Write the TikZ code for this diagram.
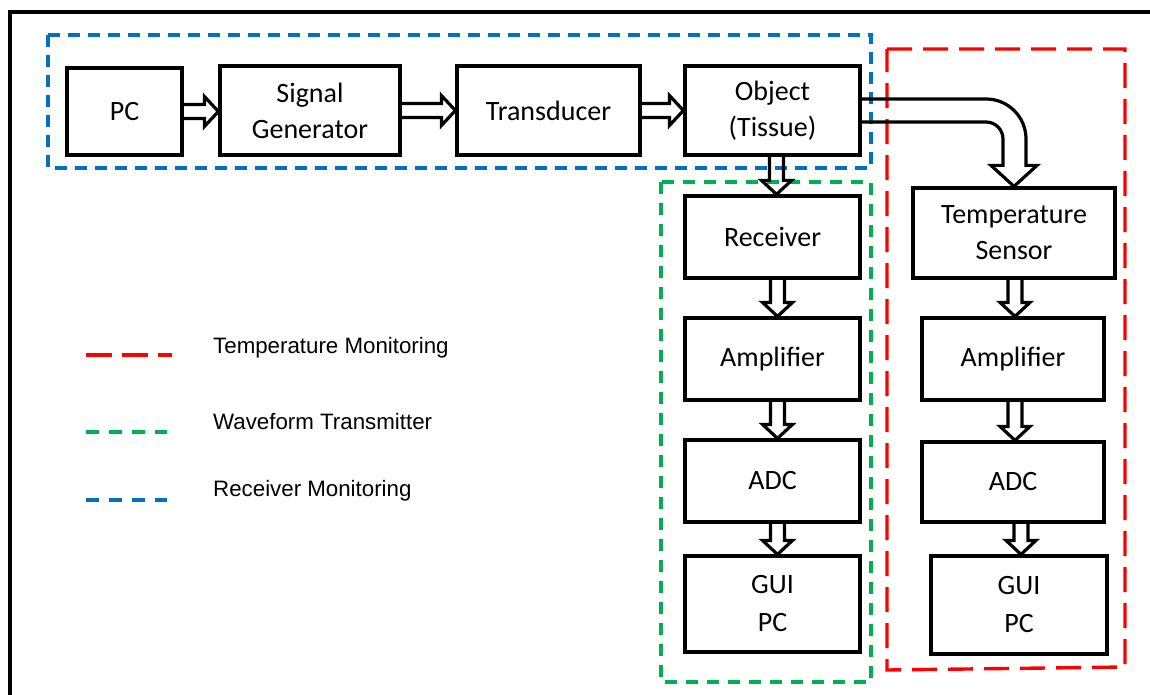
\documentclass[tikz,border=0pt]{standalone}
\usepackage{fontspec}
\setmainfont{Carlito}
\newfontfamily\legendfont{Liberation Sans}
\usetikzlibrary{calc}
\definecolor{rmblue}{RGB}{0,112,192}
\definecolor{wtgreen}{RGB}{0,176,80}
\definecolor{tmred}{RGB}{255,0,0}
\newcommand\hbarrow[2]{%
  \path let \p1=(#1.east), \p2=(#2.west) in
    [barrowline] (\x1,\y1+7pt) -- (\x2-14pt,\y1+7pt) -- (\x2-14pt,\y1+15pt) -- (\x2,\y1)
    -- (\x2-14pt,\y1-15pt) -- (\x2-14pt,\y1-7pt) -- (\x1,\y1-7pt);}
\newcommand\vbarrow[3]{%
  \path let \p1=(#1.south), \p2=(#2.north) in
    [barrowline] (\x1+#3-7pt,\y1) -- (\x1+#3-7pt,\y2+14pt) -- (\x1+#3-15pt,\y2+14pt) -- (\x1+#3,\y2)
    -- (\x1+#3+15pt,\y2+14pt) -- (\x1+#3+7pt,\y2+14pt) -- (\x1+#3+7pt,\y1);}
\begin{document}
\begin{tikzpicture}[x=1pt,y=-1pt,
  box/.style={draw, line width=3.2pt, align=center, inner sep=0pt,
    font=\fontsize{28}{36}\selectfont},
  barrowline/.style={draw, line width=3.2pt, line join=miter},
  bluegroup/.style={draw=rmblue, line width=3.4pt, dash pattern=on 12pt off 8pt},
  greengroup/.style={draw=wtgreen, line width=3.4pt, dash pattern=on 12pt off 9pt},
  redgroup/.style={draw=tmred, line width=3.4pt, dash pattern=on 25pt off 11pt},
  legendtext/.style={anchor=base west, inner sep=0pt, font=\legendfont\fontsize{22.3}{26}\selectfont},
  frame/.style={draw=black, line width=3.5pt}]
\path[use as bounding box, clip] (0,0) rectangle (1150,695);
\fill[white] (0,0) rectangle (1150,695);
\draw[frame] (10,12) rectangle (1180,720);

% group outlines
\draw[bluegroup] (48,35) rectangle (871,168);
\draw[greengroup] (661,182) rectangle (871,682);
\draw[redgroup] (887,49) -- (1125,49) -- (1125,667) -- (887,670) -- cycle;

% boxes
\node[box, minimum width=115, minimum height=87] (pc) at (124.5,111.5) {PC};
\node[box, minimum width=180, minimum height=89] (sg) at (310,110.5) {Signal\\Generator};
\node[box, minimum width=183, minimum height=89] (td) at (548.5,110.5) {Transducer};
\node[box, minimum width=175, minimum height=89] (obj) at (772.5,110.5) {Object\\(Tissue)};
\node[box, minimum width=175, minimum height=82] (rcv) at (772.5,237) {Receiver};
\node[box, minimum width=175, minimum height=82] (ampL) at (772.5,359) {Amplifier};
\node[box, minimum width=175, minimum height=82] (adcL) at (772.5,481) {ADC};
\node[box, minimum width=175, minimum height=96, font=\fontsize{28}{38}\selectfont] (guiL) at (772.5,604) {GUI\\PC};
\node[box, minimum width=202, minimum height=90] (ts) at (1014,233) {Temperature\\Sensor};
\node[box, minimum width=182, minimum height=82] (ampR) at (1013,359) {Amplifier};
\node[box, minimum width=182, minimum height=80] (adcR) at (1013,482) {ADC};
\node[box, minimum width=176, minimum height=98, font=\fontsize{28}{38}\selectfont] (guiR) at (1019,605) {GUI\\PC};

% block arrows
\hbarrow{pc}{sg}
\hbarrow{sg}{td}
\hbarrow{td}{obj}
\vbarrow{obj}{rcv}{4pt}
\vbarrow{rcv}{ampL}{5pt}
\vbarrow{ampL}{adcL}{5pt}
\vbarrow{adcL}{guiL}{5pt}
\vbarrow{ts}{ampR}{1pt}
\vbarrow{ampR}{adcR}{2pt}
\vbarrow{adcR}{guiR}{8pt}
\path let \p1=(obj.east), \p2=(ts.north) in
  [barrowline] (\x1,\y1+11.5pt) -- (\x2-28pt,\y1+11.5pt)
  arc[start angle=90, end angle=0, radius=40pt]
  -- (\x2+12pt,\y2+21pt) -- (\x2+23pt,\y2+21pt) -- (\x2,\y2)
  -- (\x2-23pt,\y2+21pt) -- (\x2-11pt,\y2+21pt) -- (\x2-11pt,\y1-28.5pt)
  arc[start angle=0, end angle=90, radius=17pt] -- (\x1,\y1-11.5pt);

% legend
\coordinate (lr0) at (86,355); \coordinate (lr1) at (172,355);
\coordinate (lg0) at (86,432); \coordinate (lg1) at (167,432);
\coordinate (lb0) at (86,500); \coordinate (lb1) at (167,500);
\draw[draw=tmred, line width=3.4pt, dash pattern=on 26pt off 10pt] (lr0) -- (lr1);
\draw[draw=wtgreen, line width=3.4pt, dash pattern=on 13pt off 10pt] (lg0) -- (lg1);
\draw[draw=rmblue, line width=3.4pt, dash pattern=on 13pt off 10pt] (lb0) -- (lb1);
\node[legendtext] (ltm) at (213,353) {Temperature Monitoring};
\node[legendtext] (lwt) at (213,429) {Waveform Transmitter};
\node[legendtext] (lrm) at (213,496) {Receiver Monitoring};
\end{tikzpicture}
\end{document}
